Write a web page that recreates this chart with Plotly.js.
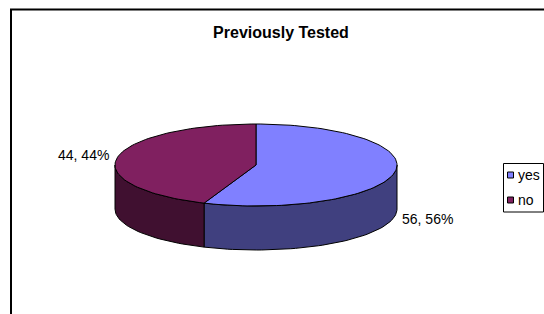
<!DOCTYPE html>
<html>
<head>
<meta charset="utf-8">
<script src="https://cdn.plot.ly/plotly-3.0.1.min.js"></script>
<style>
  html, body { margin: 0; padding: 0; background: #ffffff; }
  #chart { width: 544px; height: 314px; }
</style>
</head>
<body>
<div id="chart"></div>
<script>
// ---- data ----
const chartTitle = 'Previously Tested';
const categories = ['yes', 'no'];
const values = [56, 44];
const topColors = ['#8080ff', '#802060'];
const sideColors = ['#40407f', '#401030'];

// ---- layout geometry (pixels, y downward) ----
const W = 544, H = 314;
const cx = 256, cy = 165, rx = 141, ry = 41, depth = 44;
const FONT = 'Liberation Sans, Arial, sans-serif';

const total = values.reduce((s, v) => s + v, 0);
const rad = d => d * Math.PI / 180;
function pt(deg, dy) {
  return [cx + rx * Math.sin(rad(deg)), cy - ry * Math.cos(rad(deg)) + (dy || 0)];
}
function arc(d0, d1, dy) {
  const pts = [];
  const n = Math.max(2, Math.ceil(Math.abs(d1 - d0) / 2));
  for (let i = 0; i <= n; i++) pts.push(pt(d0 + (d1 - d0) * i / n, dy));
  return pts;
}

const sideTraces = [], topTraces = [];
let start = 0;
const slices = [];
values.forEach((v, i) => {
  const sweep = v / total * 360;
  const s0 = start, s1 = start + sweep;
  slices.push([s0, s1]);
  // visible front side: angles 90..270
  const f0 = Math.max(s0, 90), f1 = Math.min(s1, 270);
  if (f1 > f0) {
    const top = arc(f0, f1, 0);
    const bot = arc(f1, f0, depth);
    const poly = top.concat(bot);
    poly.push(top[0]);
    sideTraces.push({
      type: 'scatter', mode: 'lines', fill: 'toself',
      x: poly.map(p => p[0]), y: poly.map(p => p[1]),
      fillcolor: sideColors[i], line: {color: '#000000', width: 1},
      hoverinfo: 'skip', showlegend: false
    });
  }
  const a = arc(s0, s1, 0);
  const poly = [[cx, cy]].concat(a, [[cx, cy]]);
  topTraces.push({
    type: 'scatter', mode: 'lines', fill: 'toself', name: categories[i],
    x: poly.map(p => p[0]), y: poly.map(p => p[1]),
    fillcolor: topColors[i], line: {color: '#000000', width: 1},
    hoverinfo: 'skip', showlegend: false
  });
  start = s1;
});

// data labels
const labelPos = [
  {x: 400, y: 219, xanchor: 'left'},
  {x: 111, y: 155, xanchor: 'right'}
];
const annotations = values.map((v, i) => ({
  xref: 'x', yref: 'y', x: labelPos[i].x, y: labelPos[i].y,
  xanchor: labelPos[i].xanchor, yanchor: 'middle', showarrow: false,
  text: v + ', ' + Math.round(v / total * 100) + '%',
  font: {family: FONT, size: 14, color: '#000000'}
}));

// legend (drawn manually to match the original compact legend)
const legendX = 503, legendY = 163, legendRowH = 25;
const shapes = [
  {type: 'rect', xref: 'x', yref: 'y', x0: 11, y0: 9.5, x1: 620, y1: 400,
   line: {color: '#000000', width: 2}, fillcolor: 'rgba(0,0,0,0)', layer: 'below'},
  {type: 'rect', xref: 'x', yref: 'y', x0: legendX + 0.5, y0: legendY + 0.5, x1: 543.5, y1: legendY + 49,
   line: {color: '#000000', width: 1}, fillcolor: '#ffffff'}
];
categories.forEach((c, i) => {
  const yc = legendY + 12 + i * legendRowH;
  shapes.push({type: 'rect', xref: 'x', yref: 'y',
    x0: legendX + 4.5, x1: legendX + 10.5, y0: yc - 3, y1: yc + 3,
    line: {color: '#000000', width: 1}, fillcolor: topColors[i]});
  annotations.push({xref: 'x', yref: 'y', x: legendX + 13, y: yc,
    xanchor: 'left', yanchor: 'middle', showarrow: false, text: c,
    font: {family: FONT, size: 14, color: '#000000'}});
});

const layout = {
  width: W, height: H,
  margin: {l: 0, r: 0, t: 0, b: 0, pad: 0},
  paper_bgcolor: '#ffffff', plot_bgcolor: '#ffffff',
  showlegend: false,
  title: {
    text: chartTitle, x: 281 / W, xanchor: 'center',
    y: 1 - 32 / H, yanchor: 'middle', yref: 'container',
    font: {family: FONT, size: 16, color: '#000000', weight: 'bold'}
  },
  xaxis: {range: [0, W], visible: false, fixedrange: true},
  yaxis: {range: [H, 0], visible: false, fixedrange: true},
  shapes: shapes,
  annotations: annotations
};

Plotly.newPlot('chart', sideTraces.concat(topTraces), layout,
  {staticPlot: true, displayModeBar: false});
</script>
</body>
</html>
